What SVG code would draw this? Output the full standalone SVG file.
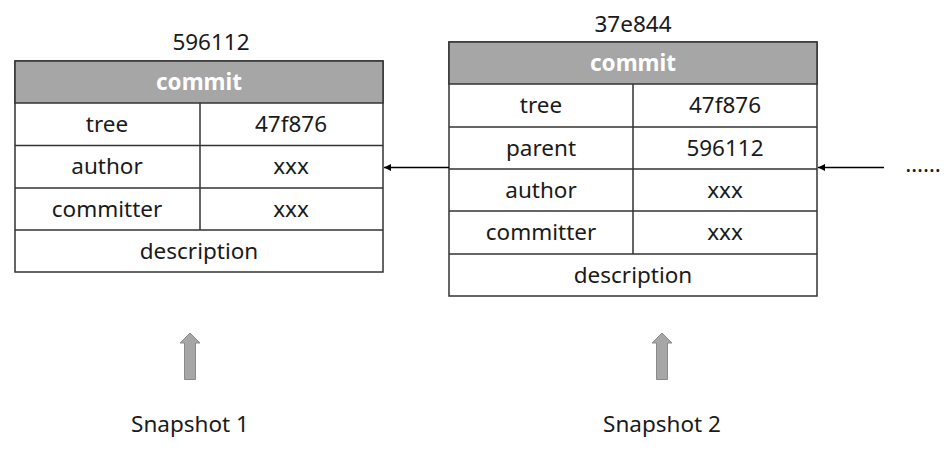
<svg xmlns="http://www.w3.org/2000/svg" width="948" height="452" viewBox="0 0 948 452">
<defs>
<style>
.t{font-family:"Noto Sans","Open Sans","Liberation Sans",sans-serif;font-size:22.5px;fill:#1a1a1a;text-anchor:middle}
.h{font-family:"Noto Sans","Open Sans","Liberation Sans",sans-serif;font-size:22.5px;font-weight:bold;fill:#ffffff;text-anchor:middle}
.box{fill:#ffffff;stroke:#333333;stroke-width:1.5}
.hd{fill:#a6a6a6;stroke:#333333;stroke-width:1.5}
.ln{stroke:#333333;stroke-width:1.5;fill:none}
.con{stroke:#000000;stroke-width:1.3;fill:none;marker-end:url(#ah)}
.up{fill:#a6a6a6;stroke:#8a8a8a;stroke-width:1}
</style>
<marker id="ah" viewBox="0 0 10 10" refX="10" refY="5" markerWidth="7" markerHeight="7" orient="auto" markerUnits="userSpaceOnUse">
<path d="M0,0 L10,5 L0,10 z" fill="#000000"/>
</marker>
</defs>
<rect width="948" height="452" fill="#ffffff"/>
<g id="commit1">
<text class="t" x="211" y="50">596112</text>
<rect class="box" x="15" y="61" width="368" height="211"/>
<rect class="hd" x="15" y="61" width="368" height="42"/>
<text class="h" x="199" y="90">commit</text>
<path class="ln" d="M15,145.5H383M15,188H383M15,230H383M200,103V230"/>
<text class="t" x="107" y="132">tree</text>
<text class="t" x="291" y="132">47f876</text>
<text class="t" x="107" y="174">author</text>
<text class="t" x="291" y="174">xxx</text>
<text class="t" x="107" y="217">committer</text>
<text class="t" x="291" y="217">xxx</text>
<text class="t" x="199" y="259">description</text>
</g>
<g id="commit2">
<text class="t" x="633" y="32">37e844</text>
<rect class="box" x="449" y="42" width="368" height="254"/>
<rect class="hd" x="449" y="42" width="368" height="42"/>
<text class="h" x="633" y="71">commit</text>
<path class="ln" d="M449,127H817M449,169H817M449,211H817M449,254H817M633,84V254"/>
<text class="t" x="541" y="113">tree</text>
<text class="t" x="725" y="113">47f876</text>
<text class="t" x="541" y="156">parent</text>
<text class="t" x="725" y="156">596112</text>
<text class="t" x="541" y="198">author</text>
<text class="t" x="725" y="198">xxx</text>
<text class="t" x="541" y="240">committer</text>
<text class="t" x="725" y="240">xxx</text>
<text class="t" x="633" y="283">description</text>
</g>
<g id="more">
<text class="t" x="923" y="172">……</text>
</g>
<g id="snap1">
<path class="up" d="M184.5,379.5V343H180L190,333L200,343H195.5V379.5Z"/>
<text class="t" x="190" y="432">Snapshot 1</text>
</g>
<g id="snap2">
<path class="up" d="M656.5,379.5V343H652L662,333L672,343H667.5V379.5Z"/>
<text class="t" x="662" y="432">Snapshot 2</text>
</g>
<g id="connectors">
<line class="con" x1="449" y1="167.5" x2="384" y2="167.5"/>
<line class="con" x1="884" y1="167.5" x2="818" y2="167.5"/>
</g>
</svg>
